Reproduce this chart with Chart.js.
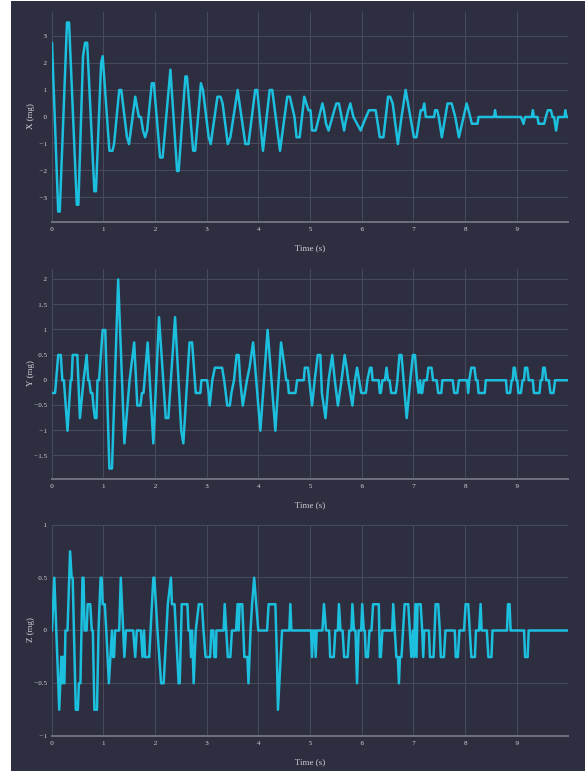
<!DOCTYPE html>
<html>
<head>
<meta charset="utf-8">
<script src="https://cdn.jsdelivr.net/npm/chart.js@4.4.1/dist/chart.umd.min.js"></script>
<style>
  html, body { margin: 0; padding: 0; background: #ffffff; }
  #panel { position: absolute; left: 11px; top: 1px; width: 574px; height: 770px; background: #2d2f40; }
  #panel canvas { position: absolute; left: 0; }
</style>
</head>
<body>
<div id="panel">
  <canvas id="chartX" width="574" height="256" style="top:0px"></canvas>
  <canvas id="chartY" width="574" height="256" style="top:257px"></canvas>
  <canvas id="chartZ" width="574" height="256" style="top:514px"></canvas>
</div>
<script>
// Accelerometer record, 0–10 s, three axes (mg). Vertices of each trace.
const xTimes = [0, 0.12, 0.15, 0.29, 0.33, 0.48, 0.51, 0.6, 0.64, 0.68, 0.82, 0.85, 0.95, 0.98, 1.11, 1.17, 1.2, 1.3, 1.34,
  1.45, 1.49, 1.61, 1.68, 1.72, 1.76, 1.8, 1.84, 1.93, 1.97, 2.09, 2.14, 2.29, 2.42, 2.45, 2.58, 2.61, 2.73, 2.77, 2.88, 2.92,
  3.03, 3.07, 3.2, 3.26, 3.3, 3.4, 3.45, 3.59, 3.74, 3.8, 3.93, 3.97, 4.08, 4.21, 4.26, 4.41, 4.55, 4.6, 4.69, 4.73, 4.79,
  4.88, 4.92, 4.96, 5.0, 5.03, 5.1, 5.23, 5.26, 5.3, 5.35, 5.46, 5.5, 5.55, 5.65, 5.67, 5.7, 5.73, 5.77, 5.8, 5.83, 5.97, 6.02,
  6.13, 6.26, 6.34, 6.41, 6.5, 6.54, 6.59, 6.69, 6.76, 6.84, 7.0, 7.05, 7.13, 7.17, 7.2, 7.23, 7.39, 7.41, 7.45, 7.48, 7.54,
  7.65, 7.73, 7.8, 7.87, 8.02, 8.09, 8.12, 8.23, 8.25, 8.55, 8.57, 8.59, 9.07, 9.12, 9.15, 9.28, 9.3, 9.32, 9.39, 9.41, 9.52,
  9.55, 9.59, 9.65, 9.68, 9.71, 9.75, 9.79, 9.91, 9.93, 9.95, 9.98];
const xValues = [2.75, -3.5, -3.5, 3.5, 3.5, -3.25, -3.25, 2.25, 2.75, 2.75, -2.75, -2.75, 2.0, 2.25, -1.25, -1.25, -1.0, 1.0, 1.0,
  -0.75, -1.0, 0.75, 0, 0, -0.5, -0.75, -0.5, 1.25, 1.25, -1.5, -1.5, 1.75, -2.0, -2.0, 1.5, 1.5, -1.25, -1.25, 1.25, 1.0,
  -0.75, -1.0, 0.75, 0.75, 0.5, -1.0, -0.75, 1.0, -1.0, -1.0, 1.0, 1.0, -1.25, 1.0, 1.0, -1.25, 0.75, 0.75, 0, -0.75, -0.75,
  0.75, 0.5, 0.25, 0.25, -0.5, -0.5, 0.5, 0.25, -0.25, -0.5, 0.25, 0.5, 0.5, -0.5, -0.25, 0, 0.25, 0.5, 0.25, 0, -0.5, -0.25,
  0.25, 0.25, -0.75, -0.75, 0.75, 0.75, 0.5, -1.0, 0, 1.0, -0.75, -0.75, 0.25, 0.25, 0.5, 0, 0, 0.25, 0.25, 0, -0.75,
  0.5, 0.5, 0, -0.75, 0.5, 0, -0.25, -0.25, 0, 0, 0.25, 0, 0, -0.25, 0, 0, 0.25, 0, 0, -0.25, -0.25,
  0, 0.25, 0.25, 0, 0, -0.5, 0, 0, 0.25, 0, 0];

const yTimes = [0, 0.06, 0.12, 0.17, 0.2, 0.23, 0.3, 0.36, 0.38, 0.4, 0.49, 0.54, 0.61, 0.67, 0.7, 0.72, 0.75, 0.78, 0.8, 0.83,
  0.86, 0.88, 0.91, 0.98, 1.03, 1.11, 1.16, 1.28, 1.4, 1.5, 1.59, 1.65, 1.71, 1.74, 1.77, 1.85, 1.96, 2.07, 2.2, 2.25, 2.38,
  2.5, 2.54, 2.66, 2.71, 2.78, 2.87, 2.89, 3.0, 3.03, 3.05, 3.1, 3.15, 3.29, 3.33, 3.36, 3.39, 3.44, 3.47, 3.52, 3.57, 3.61,
  3.64, 3.69, 3.77, 3.82, 3.89, 4.03, 4.17, 4.32, 4.43, 4.5, 4.53, 4.56, 4.58, 4.71, 4.74, 4.87, 4.89, 4.95, 5.03, 5.08, 5.14,
  5.19, 5.22, 5.29, 5.35, 5.42, 5.47, 5.53, 5.6, 5.66, 5.7, 5.73, 5.81, 5.86, 5.9, 5.94, 5.98, 6.07, 6.1, 6.15, 6.18, 6.2,
  6.32, 6.34, 6.36, 6.39, 6.44, 6.47, 6.5, 6.53, 6.56, 6.65, 6.68, 6.72, 6.76, 6.8, 6.86, 6.93, 6.98, 7.02, 7.06, 7.09, 7.12,
  7.14, 7.16, 7.19, 7.25, 7.28, 7.34, 7.37, 7.44, 7.47, 7.53, 7.55, 7.75, 7.78, 7.84, 7.87, 8.03, 8.05, 8.07, 8.11, 8.17, 8.2,
  8.23, 8.25, 8.37, 8.39, 8.78, 8.8, 8.86, 8.89, 8.91, 8.93, 8.95, 8.98, 9.0, 9.02, 9.07, 9.1, 9.13, 9.15, 9.19, 9.22, 9.3,
  9.32, 9.43, 9.45, 9.48, 9.5, 9.53, 9.56, 9.61, 9.64, 9.7, 9.73, 9.98];
const yValues = [-0.25, -0.25, 0.5, 0.5, 0, 0, -1.0, 0, 0, 0.5, 0.5, -0.75, 0, 0.5, 0, 0, -0.25, -0.25, -0.5, -0.75,
  -0.75, 0, 0, 1.0, 1.0, -1.75, -1.75, 2.0, -1.25, 0, 0.75, -0.5, -0.5, -0.25, -0.25, 0.75, -1.25, 1.25, -0.75, -0.75, 1.25,
  -1.0, -1.25, 0.75, 0.75, -0.25, -0.25, 0, 0, -0.25, -0.5, 0, 0.25, 0.25, 0, -0.25, -0.5, -0.5, -0.25, 0, 0.5, 0.5,
  0, -0.5, 0, 0.25, 0.75, -1.0, 1.0, -1.0, 0.75, 0.25, 0, 0, -0.25, -0.25, 0, 0, 0.25, 0.25, -0.5, 0, 0.5,
  0.5, -0.25, -0.75, 0, 0.5, 0, -0.5, 0, 0.5, 0.25, 0, -0.5, 0, 0.25, 0, -0.25, -0.25, 0, 0.25, 0.25, 0,
  0, -0.25, -0.25, 0, 0, 0.25, 0, 0, -0.25, -0.25, 0, 0.5, 0.5, 0, -0.75, 0, 0.5, 0.5, 0, -0.25, 0,
  -0.25, -0.25, 0, 0, 0.25, 0.25, 0, 0, -0.25, -0.25, 0, 0, -0.25, -0.25, 0, 0, -0.25, 0, 0.25, 0.25, 0,
  0, -0.25, -0.25, 0, 0, -0.25, -0.25, 0, 0, 0.25, 0.25, 0, 0, -0.25, -0.25, 0, 0, 0.25, 0.25, 0, 0,
  -0.25, -0.25, 0, 0, 0.25, 0.25, 0, 0, -0.25, -0.25, 0, 0];

const zTimes = [0, 0.045, 0.14, 0.18, 0.2, 0.22, 0.24, 0.26, 0.3, 0.35, 0.38, 0.4, 0.46, 0.5, 0.52, 0.55, 0.59, 0.61, 0.63,
  0.67, 0.69, 0.74, 0.77, 0.79, 0.82, 0.87, 0.9, 0.94, 0.96, 0.98, 1.02, 1.05, 1.1, 1.13, 1.16, 1.18, 1.2, 1.22, 1.3, 1.33,
  1.4, 1.43, 1.57, 1.61, 1.64, 1.72, 1.75, 1.78, 1.8, 1.88, 1.96, 1.98, 2.01, 2.04, 2.11, 2.16, 2.24, 2.3, 2.32, 2.37, 2.45,
  2.47, 2.51, 2.62, 2.64, 2.67, 2.69, 2.71, 2.74, 2.78, 2.84, 2.9, 2.93, 2.97, 3.06, 3.08, 3.12, 3.14, 3.17, 3.18, 3.32,
  3.34, 3.37, 3.4, 3.45, 3.48, 3.56, 3.59, 3.61, 3.63, 3.68, 3.7, 3.72, 3.78, 3.8, 3.84, 3.87, 3.91, 3.95, 3.99, 4.16, 4.19,
  4.32, 4.35, 4.37, 4.45, 4.59, 4.61, 4.63, 5.01, 5.03, 5.05, 5.08, 5.1, 5.12, 5.23, 5.26, 5.3, 5.36, 5.38, 5.45, 5.48, 5.53,
  5.55, 5.58, 5.62, 5.65, 5.72, 5.75, 5.79, 5.81, 5.84, 5.87, 5.9, 5.93, 5.98, 6.0, 6.03, 6.05, 6.07, 6.11, 6.14, 6.18, 6.21,
  6.32, 6.34, 6.36, 6.39, 6.58, 6.6, 6.63, 6.66, 6.69, 6.71, 6.73, 6.76, 6.79, 6.82, 6.89, 6.92, 6.95, 6.98, 7.0, 7.03, 7.05,
  7.07, 7.13, 7.16, 7.18, 7.2, 7.29, 7.31, 7.38, 7.4, 7.42, 7.47, 7.5, 7.52, 7.58, 7.61, 7.79, 7.81, 7.85, 7.88, 7.97, 8.0,
  8.05, 8.08, 8.11, 8.18, 8.2, 8.26, 8.29, 8.31, 8.41, 8.44, 8.5, 8.52, 8.8, 8.82, 8.85, 8.87, 9.13, 9.15, 9.2, 9.22, 9.98];
const zValues = [0, 0.5, -0.75, -0.25, -0.5, -0.25, -0.5, 0, 0, 0.75, 0.5, 0.5, -0.75, -0.75, -0.5, -0.5, 0.5, 0.5, 0,
  0, 0.25, 0.25, 0, 0, -0.75, -0.75, 0, 0.5, 0.5, 0.25, 0.25, 0, -0.5, -0.25, 0, -0.25, -0.25, 0, 0, 0.5,
  -0.25, 0, 0, -0.25, 0, 0, -0.25, 0, -0.25, -0.25, 0.5, 0.5, 0.25, 0, -0.5, -0.5, 0.25, 0.5, 0.25, 0.25, -0.5,
  -0.5, 0.25, 0.25, 0, 0, -0.25, 0, -0.5, 0, 0.25, 0.25, 0, -0.25, -0.25, 0, 0, -0.25, -0.25, 0, 0,
  0.25, 0, -0.25, -0.25, 0, 0, 0.25, 0, 0.25, 0.25, 0, -0.25, -0.25, -0.5, 0, 0.25, 0.5, 0.25, 0, 0, 0.25,
  0.25, -0.25, -0.75, 0, 0, 0.25, 0, 0, -0.25, 0, 0, -0.25, 0, 0, 0.25, 0, 0, -0.25, -0.25, 0, 0,
  0.25, 0, 0, -0.25, -0.25, 0, 0, 0.25, 0, 0, -0.5, 0, 0, 0.25, 0, 0, -0.25, -0.25, 0, 0, 0.25,
  0.25, -0.25, -0.25, 0, 0, 0.25, 0, -0.25, -0.25, -0.5, -0.25, -0.25, 0, 0.25, 0.25, 0, -0.25, 0, -0.25, 0.25, -0.25,
  0.25, 0.25, 0, -0.25, 0, 0, -0.25, -0.25, 0, 0.25, 0.25, 0, -0.25, -0.25, 0, 0, -0.25, -0.25, 0, 0, 0.25,
  0.25, 0, -0.25, -0.25, 0, 0, 0.25, 0, 0, -0.25, -0.25, 0, 0, 0.25, 0.25, 0, 0, -0.25, -0.25, 0, 0];

const xAxisTicks = [0, 1, 2, 3, 4, 5, 6, 7, 8, 9];
const xAxisTitle = 'Time (s)';

const LINE = '#1cbfdd';
const GRID = '#474a5b';
const AXIS = '#6d6f7c';
const TEXT = '#c3c4cc';
const SERIF = "'Liberation Serif', 'DejaVu Serif', serif";

function toPoints(times, values) {
  return times.map((t, i) => ({ x: t, y: values[i] }));
}

function fmt(v) {
  return String(v).replace('-', '\u2212');
}

function makeChart(id, times, values, title, yMin, yMax, yStep, padTop) {
  new Chart(document.getElementById(id), {
    type: 'line',
    data: {
      datasets: [{
        data: toPoints(times, values),
        borderColor: LINE,
        borderWidth: 2.5,
        borderJoinStyle: 'round',
        borderCapStyle: 'round',
        pointRadius: 0,
        tension: 0,
        fill: false
      }]
    },
    options: {
      responsive: false,
      animation: false,
      devicePixelRatio: 1,
      layout: { padding: { left: 0, right: 17, top: padTop, bottom: 0 } },
      plugins: { legend: { display: false }, tooltip: { enabled: false } },
      scales: {
        x: {
          type: 'linear',
          min: 0,
          max: times[times.length - 1],
          afterBuildTicks: (s) => { s.ticks = xAxisTicks.map(v => ({ value: v })); },
          afterFit: (s) => { s.height = 35; },
          ticks: {
            color: TEXT,
            font: { family: SERIF, size: 7 },
            padding: 3,
            maxRotation: 0,
            callback: (v) => fmt(v)
          },
          grid: { color: GRID, lineWidth: 1, drawTicks: false },
          border: { display: true, color: AXIS, width: 2 },
          title: {
            display: true,
            text: xAxisTitle,
            color: TEXT,
            font: { family: SERIF, size: 9 },
            padding: { top: 0, bottom: 3 }
          }
        },
        y: {
          type: 'linear',
          min: yMin,
          max: yMax,
          afterBuildTicks: (s) => {
            const out = [];
            const first = Math.ceil(yMin / yStep - 1e-9);
            const last = Math.floor(yMax / yStep + 1e-9);
            for (let k = first; k <= last; k++) out.push({ value: +(k * yStep).toFixed(4) });
            s.ticks = out;
          },
          afterFit: (s) => { s.width = 41; },
          ticks: {
            color: TEXT,
            font: { family: SERIF, size: 7 },
            padding: 5,
            callback: (v) => fmt(v)
          },
          grid: { color: GRID, lineWidth: 1, drawTicks: false },
          border: { display: false },
          title: {
            display: true,
            text: title,
            color: TEXT,
            font: { family: SERIF, size: 9 },
            padding: { top: 13, bottom: 0 }
          }
        }
      }
    }
  });
}

makeChart('chartX', xTimes, xValues, 'X (mg)', -3.889, 3.889, 1, 11);
makeChart('chartY', yTimes, yValues, 'Y (mg)', -1.958, 2.208, 0.5, 11);
makeChart('chartZ', zTimes, zValues, 'Z (mg)', -1, 1, 0.5, 10);
</script>
</body>
</html>
